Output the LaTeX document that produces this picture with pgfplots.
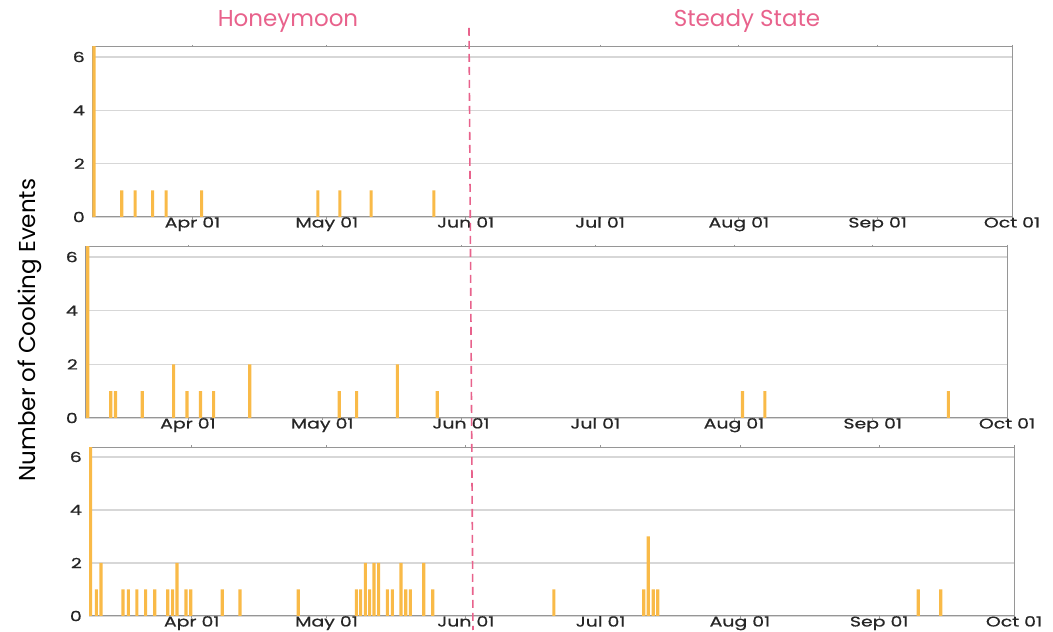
\documentclass[border=0pt]{standalone}
\usepackage{fontspec}
\setmainfont{Poppins}
\newfontfamily\tickfont[FakeStretch=1.35, FakeBold=0.8]{Poppins}
\usepackage{pgfplots}
\pgfplotsset{compat=1.18}
\definecolor{barc}{RGB}{249,186,72}
\definecolor{pinkc}{RGB}{232,98,140}
\definecolor{gridc}{RGB}{215,215,215}
\definecolor{framec}{RGB}{150,150,150}
\pgfplotsset{panel/.style={
  scale only axis, anchor=south west,
  ymin=0, ymax=6.375, xmax=214,
  ytick={0,2,4,6},
  xtick={31,61,92,122,153,184,214},
  xticklabels={Apr 01,May 01,Jun 01,Jul 01,Aug 01,Sep 01,Oct 01},
  ymajorgrids, grid style={gridc, line width=1.5pt},
  axis line style={framec, line width=1pt},
  xtick style={framec, line width=0.8pt},
  ytick style={draw=none},
  major tick length=2pt,
  tick align=outside,
  ticklabel style={font=\tickfont\fontsize{14}{14}\selectfont, text=black!85},
  xticklabel style={inner sep=0pt, yshift=2pt},
  yticklabel style={inner sep=0pt, xshift=-5pt},
  /pgf/number format/assume math mode=true,
  ybar, bar width=0.7,
}}
\begin{document}
\begin{tikzpicture}[x=1pt,y=1pt]
\useasboundingbox (0,0) rectangle (1053,632);
% Panel 1
\begin{axis}[panel, at={(92pt,415pt)}, width=920pt, height=170pt, xmin=8.56]
\addplot[fill=barc, draw=none] coordinates {(9.0,20) (15.2,1) (18.2,1) (22.1,1) (25.1,1) (33.05,1) (59,1) (63.9,1) (70.9,1) (84.9,1)};
\end{axis}
% Panel 2
\begin{axis}[panel, at={(85pt,214pt)}, width=922pt, height=171pt, xmin=8.0]
\addplot[fill=barc, draw=none] coordinates {(8.6,20) (13.75,1) (14.8,1) (20.8,1) (27.8,2) (30.8,1) (33.8,1) (36.75,1) (44.8,2) (64.8,1) (68.7,1) (77.8,2) (86.7,1) (154.9,1) (159.9,1) (200.9,1)};
\end{axis}
% Panel 3
\begin{axis}[panel, at={(89pt,16pt)}, width=925pt, height=169pt, xmin=8.14]
\addplot[fill=barc, draw=none] coordinates {(8.5,20) (9.77,1) (10.8,2) (15.7,1) (16.9,1) (18.8,1) (20.75,1) (22.76,1) (25.65,1) (26.76,1) (27.73,2) (29.73,1) (30.77,1) (37.8,1) (41.75,1) (54.7,1) (67.64,1) (68.6,1) (69.64,2) (70.6,1) (71.57,2) (72.6,2) (74.54,1) (75.65,1) (77.58,2) (78.62,1) (79.66,1) (82.63,2) (84.63,1) (111.6,1) (131.6,1) (132.6,3) (133.7,1) (134.7,1) (192.7,1) (197.7,1)};
\end{axis}
\draw[pinkc, line width=1.6pt, dash pattern=on 8pt off 5pt] (469,604) -- (473,2);
\node[text=pinkc, font=\fontsize{23}{23}\selectfont] at (288,611) {Honeymoon};
\node[text=pinkc, font=\fontsize{23}{23}\selectfont] at (747,611) {Steady State};
\node[rotate=90, font=\fontsize{23}{23}\selectfont] at (30,302) {Number of Cooking Events};
\end{tikzpicture}
\end{document}
